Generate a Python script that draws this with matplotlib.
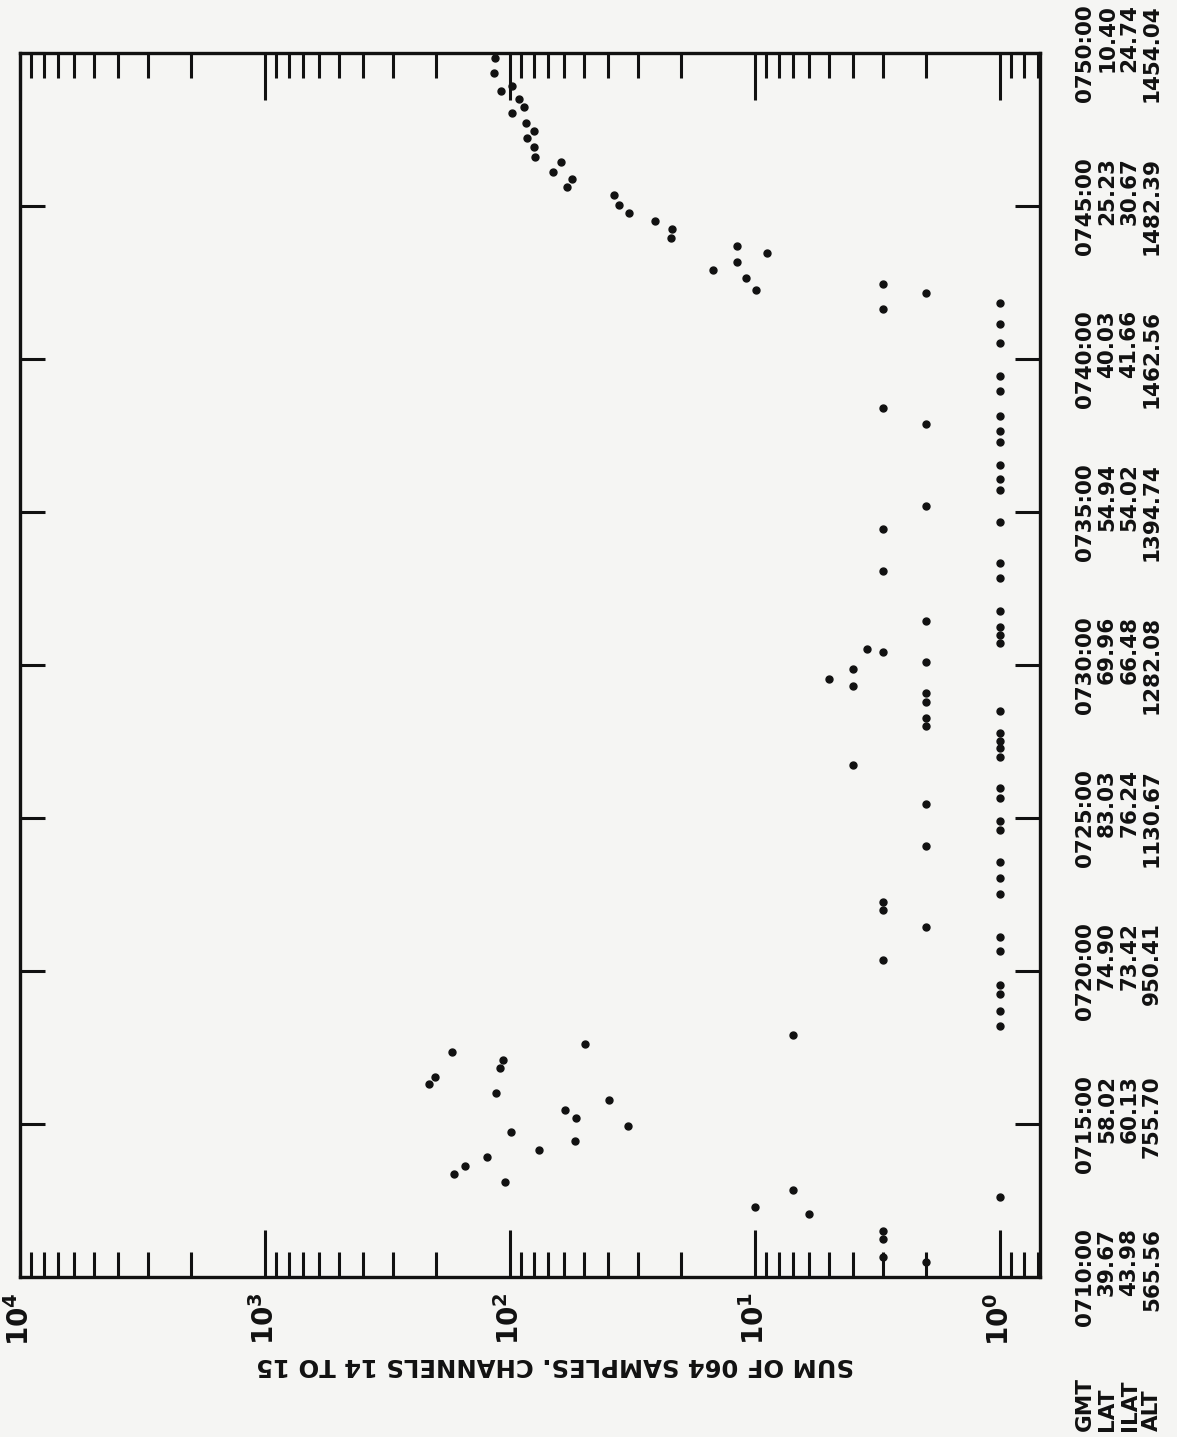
import matplotlib
matplotlib.use("Agg")
import matplotlib.pyplot as plt
from matplotlib.ticker import LogLocator, FixedLocator, NullFormatter

plt.rcParams["font.family"] = ["DejaVu Sans"]
plt.rcParams["font.weight"] = "bold"
plt.rcParams["mathtext.fontset"] = "dejavusans"

# time is minutes after 0710:00 GMT, counts are sum of 064 samples
rise_min = [39.85, 39.36, 38.92, 38.76, 38.5, 38.25, 38.03, 37.7, 37.45, 37.21,
            36.93, 36.61, 36.43, 36.11, 35.87, 35.61, 35.35, 35.02, 34.76, 34.5,
            34.26, 33.96, 33.7, 33.45, 33.18, 32.9, 32.64, 32.25]
rise_cnt = [115, 116, 98, 109, 92, 88, 98, 86, 80, 85.5,
            80, 79, 62, 66.6, 56, 58.7, 37.8, 35.9, 32.8, 25.5,
            21.9, 22.1, 11.8, 8.9, 11.9, 14.8, 10.9, 9.9]

burst_min = [7.62, 7.37, 7.1, 6.84, 6.55, 6.3, 6.01, 5.78, 5.46, 5.2,
             4.95, 4.73, 4.43, 4.15, 3.92, 3.62, 3.37, 3.1]
burst_cnt = [49.5, 172, 107, 110, 203, 214, 114.5, 39.3, 59.7, 53.9,
             33, 98.8, 54.3, 76.3, 124, 152, 169, 105]

ones_min = [31.82, 31.13, 30.54, 29.44, 28.95, 28.14, 27.65, 27.3, 26.54, 26.07,
            25.72, 24.68, 23.34, 22.83, 21.76, 21.25, 20.98, 20.71, 18.5, 17.77,
            17.53, 17.28, 16.98, 15.98, 15.66, 14.89, 14.6, 13.57, 13.04, 12.51,
            11.11, 10.64, 9.55, 9.25, 8.7, 8.2, 2.6]
twos_min = [32.15, 27.87, 25.2, 21.45, 20.1, 19.1, 18.8, 18.28, 18.0, 15.45,
            14.08, 11.43, 0.5]
threes_min = [32.45, 31.62, 28.39, 24.43, 23.07, 20.41, 12.26, 11.99, 10.36,
              1.5, 1.25, 0.65]
other_min = [20.54, 19.87, 19.3, 16.73, 19.56, 7.9, 2.86, 2.3, 2.05]
other_cnt = [3.5, 4, 4, 4, 5, 7, 7, 10, 6]

gmt = ["0710:00", "0715:00", "0720:00", "0725:00", "0730:00",
       "0735:00", "0740:00", "0745:00", "0750:00"]
lat = ["39.67", "58.02", "74.90", "83.03", "69.96", "54.94", "40.03", "25.23", "10.40"]
ilat = ["43.98", "60.13", "73.42", "76.24", "66.48", "54.02", "41.66", "30.67", "24.74"]
alt = ["565.56", "755.70", "950.41", "1130.67", "1282.08",
       "1394.74", "1462.56", "1482.39", "1454.04"]
tick_min = [0, 5, 10, 15, 20, 25, 30, 35, 40]

decades = [1e4, 1e3, 1e2, 1e1, 1e0]
decade_labels = [r"$\mathbf{10^{4}}$", r"$\mathbf{10^{3}}$", r"$\mathbf{10^{2}}$",
                 r"$\mathbf{10^{1}}$", r"$\mathbf{10^{0}}$"]

ink = "#111111"
bg = "#f5f5f3"

fig = plt.figure(figsize=(11.77, 14.37), dpi=100, facecolor=bg)
ax = fig.add_axes([0.017, 0.1113, 0.8666, 0.8518], facecolor=bg)

cnt = (rise_cnt + burst_cnt + [1] * len(ones_min) + [2] * len(twos_min)
       + [3] * len(threes_min) + other_cnt)
tmin = rise_min + burst_min + ones_min + twos_min + threes_min + other_min
ax.plot(cnt, tmin, "o", ms=5, color=ink, clip_on=False, zorder=3)

ax.set_xscale("log")
ax.set_xlim(1e4, 10 ** -0.163)
ax.set_ylim(0, 40)

ax.xaxis.set_major_locator(FixedLocator(decades))
ax.set_xticklabels(decade_labels, rotation=90, fontsize=20)
ax.xaxis.set_minor_locator(LogLocator(base=10, subs=range(2, 10), numticks=20))
ax.xaxis.set_minor_formatter(NullFormatter())
ax.tick_params(axis="x", which="major", direction="in", length=34, width=2.2,
               top=True, bottom=True, pad=11, colors=ink)
ax.tick_params(axis="x", which="minor", direction="in", length=18, width=2.2,
               top=True, bottom=True, colors=ink)

ax.set_yticks(tick_min)
ax.set_yticklabels([f"{g}\n{a}\n{b}\n{c}" for g, a, b, c in zip(gmt, lat, ilat, alt)])
ax.tick_params(axis="y", direction="in", length=18, width=2.2, left=True, right=True,
               labelleft=False, labelright=True, pad=25, labelsize=15.5, colors=ink)
for lbl in ax.get_yticklabels():
    lbl.set_rotation(90)
    lbl.set_multialignment("right")
    lbl.set_verticalalignment("center")
    lbl.set_linespacing(1.15)
    lbl.set_fontweight("bold")

for sp in ax.spines.values():
    sp.set_linewidth(2.4)
    sp.set_color(ink)

fig.text(0.4715, 0.0501, "SUM OF 064 SAMPLES. CHANNELS 14 TO 15", rotation=180,
         ha="center", va="center", fontsize=17.5, fontweight="bold", color=ink)
fig.text(0.9133, 0.004, "GMT\nLAT\nILAT\nALT", rotation=90, ha="left", va="bottom",
         multialignment="left", linespacing=1.15, fontsize=15.5, fontweight="bold",
         color=ink)

fig.savefig("out.png", dpi=100, facecolor=bg)
